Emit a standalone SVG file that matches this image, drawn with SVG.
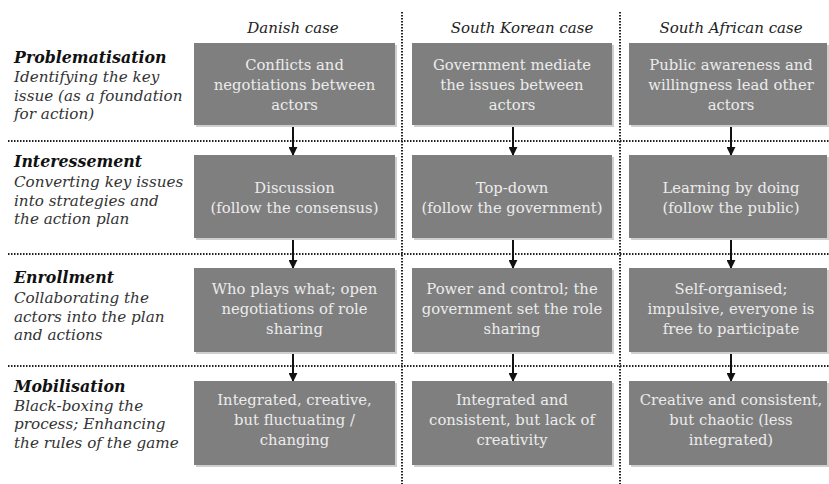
<svg xmlns="http://www.w3.org/2000/svg" width="829" height="484" viewBox="0 0 829 484" font-family="'DejaVu Serif', 'Liberation Serif', serif">
<style>
.bg{fill:#ffffff}
.box{fill:#7f7f7f}
.shadow{fill:#cfcfcf}
.bt{font-size:14.8px;fill:#ececec;text-anchor:middle}
.hd{font-size:15px;font-style:italic;fill:#222;text-anchor:middle}
.lt{font-size:15.2px;font-style:italic;fill:#333}
.lb{font-weight:bold;fill:#111;font-size:15.8px}
.dot{stroke:#222;stroke-width:2;stroke-dasharray:1.5 1.5;fill:none}
.arr{stroke:#111;stroke-width:2;fill:none;marker-end:url(#ah)}
</style>
<defs>
<marker id="ah" viewBox="0 0 10 10" refX="9" refY="5" markerWidth="4.5" markerHeight="4.5" orient="auto" markerUnits="strokeWidth">
<path d="M0,0 L10,5 L0,10 z" fill="#111"/>
</marker>
</defs>
<rect class="bg" x="0" y="0" width="829" height="484"/>

<g id="gridlines">
<line class="dot" x1="402" y1="12" x2="402" y2="484"/>
<line class="dot" x1="620" y1="12" x2="620" y2="484"/>
<line class="dot" x1="8" y1="141" x2="829" y2="141"/>
<line class="dot" x1="8" y1="254" x2="829" y2="254"/>
<line class="dot" x1="8" y1="366" x2="829" y2="366"/>
</g>

<g id="headers">
<text class="hd" x="293" y="33">Danish case</text>
<text class="hd" x="522" y="33">South Korean case</text>
<text class="hd" x="731" y="33">South African case</text>
</g>

<g id="label-problematisation">
<text class="lt lb" x="14" y="63">Problematisation</text>
<text class="lt" x="14" y="82">Identifying the key</text>
<text class="lt" x="14" y="100.5">issue (as a foundation</text>
<text class="lt" x="14" y="119">for action)</text>
</g>
<g id="label-interessement">
<text class="lt lb" x="14" y="167">Interessement</text>
<text class="lt" x="14" y="187">Converting key issues</text>
<text class="lt" x="14" y="205.5">into strategies and</text>
<text class="lt" x="14" y="224">the action plan</text>
</g>
<g id="label-enrollment">
<text class="lt lb" x="14" y="283">Enrollment</text>
<text class="lt" x="14" y="303">Collaborating the</text>
<text class="lt" x="14" y="321.5">actors into the plan</text>
<text class="lt" x="14" y="340">and actions</text>
</g>
<g id="label-mobilisation">
<text class="lt lb" x="14" y="392">Mobilisation</text>
<text class="lt" x="14" y="410.5">Black-boxing the</text>
<text class="lt" x="14" y="429">process; Enhancing</text>
<text class="lt" x="14" y="447.5">the rules of the game</text>
</g>

<g id="connectors">
<line class="arr" x1="293" y1="125" x2="293" y2="155"/>
<line class="arr" x1="293" y1="238" x2="293" y2="268"/>
<line class="arr" x1="293" y1="352" x2="293" y2="381"/>
<line class="arr" x1="513" y1="125" x2="513" y2="155"/>
<line class="arr" x1="513" y1="238" x2="513" y2="268"/>
<line class="arr" x1="513" y1="352" x2="513" y2="381"/>
<line class="arr" x1="731" y1="125" x2="731" y2="155"/>
<line class="arr" x1="731" y1="238" x2="731" y2="268"/>
<line class="arr" x1="731" y1="352" x2="731" y2="381"/>
</g>

<g id="dk-1"><rect class="shadow" x="196" y="45" width="201" height="82"/><rect class="box" x="194" y="43" width="201" height="82"/>
<text class="bt" x="294.5" y="70">Conflicts and</text><text class="bt" x="294.5" y="90">negotiations between</text><text class="bt" x="294.5" y="110">actors</text></g>
<g id="kr-1"><rect class="shadow" x="414" y="45" width="200" height="82"/><rect class="box" x="412" y="43" width="200" height="82"/>
<text class="bt" x="512" y="70">Government mediate</text><text class="bt" x="512" y="90">the issues between</text><text class="bt" x="512" y="110">actors</text></g>
<g id="za-1"><rect class="shadow" x="631" y="45" width="198" height="82"/><rect class="box" x="629" y="43" width="198" height="82"/>
<text class="bt" x="731" y="70">Public awareness and</text><text class="bt" x="731" y="90">willingness lead other</text><text class="bt" x="731" y="110">actors</text></g>

<g id="dk-2"><rect class="shadow" x="196" y="157" width="201" height="83"/><rect class="box" x="194" y="155" width="201" height="83"/>
<text class="bt" x="294.5" y="193">Discussion</text><text class="bt" x="294.5" y="213">(follow the consensus)</text></g>
<g id="kr-2"><rect class="shadow" x="414" y="157" width="200" height="83"/><rect class="box" x="412" y="155" width="200" height="83"/>
<text class="bt" x="512" y="193">Top-down</text><text class="bt" x="512" y="213">(follow the government)</text></g>
<g id="za-2"><rect class="shadow" x="631" y="157" width="198" height="83"/><rect class="box" x="629" y="155" width="198" height="83"/>
<text class="bt" x="731" y="193">Learning by doing</text><text class="bt" x="731" y="213">(follow the public)</text></g>

<g id="dk-3"><rect class="shadow" x="196" y="270" width="201" height="84"/><rect class="box" x="194" y="268" width="201" height="84"/>
<text class="bt" x="294.5" y="294">Who plays what; open</text><text class="bt" x="294.5" y="314">negotiations of role</text><text class="bt" x="294.5" y="334">sharing</text></g>
<g id="kr-3"><rect class="shadow" x="414" y="270" width="200" height="84"/><rect class="box" x="412" y="268" width="200" height="84"/>
<text class="bt" x="512" y="294">Power and control; the</text><text class="bt" x="512" y="314">government set the role</text><text class="bt" x="512" y="334">sharing</text></g>
<g id="za-3"><rect class="shadow" x="631" y="270" width="198" height="84"/><rect class="box" x="629" y="268" width="198" height="84"/>
<text class="bt" x="731" y="294">Self-organised;</text><text class="bt" x="731" y="314">impulsive, everyone is</text><text class="bt" x="731" y="334">free to participate</text></g>

<g id="dk-4"><rect class="shadow" x="196" y="383" width="201" height="84"/><rect class="box" x="194" y="381" width="201" height="84"/>
<text class="bt" x="294.5" y="405">Integrated, creative,</text><text class="bt" x="294.5" y="425">but fluctuating /</text><text class="bt" x="294.5" y="445">changing</text></g>
<g id="kr-4"><rect class="shadow" x="414" y="383" width="200" height="84"/><rect class="box" x="412" y="381" width="200" height="84"/>
<text class="bt" x="512" y="405">Integrated and</text><text class="bt" x="512" y="425">consistent, but lack of</text><text class="bt" x="512" y="445">creativity</text></g>
<g id="za-4"><rect class="shadow" x="631" y="383" width="198" height="84"/><rect class="box" x="629" y="381" width="198" height="84"/>
<text class="bt" x="731" y="405">Creative and consistent,</text><text class="bt" x="731" y="425">but chaotic (less</text><text class="bt" x="731" y="445">integrated)</text></g>
</svg>
